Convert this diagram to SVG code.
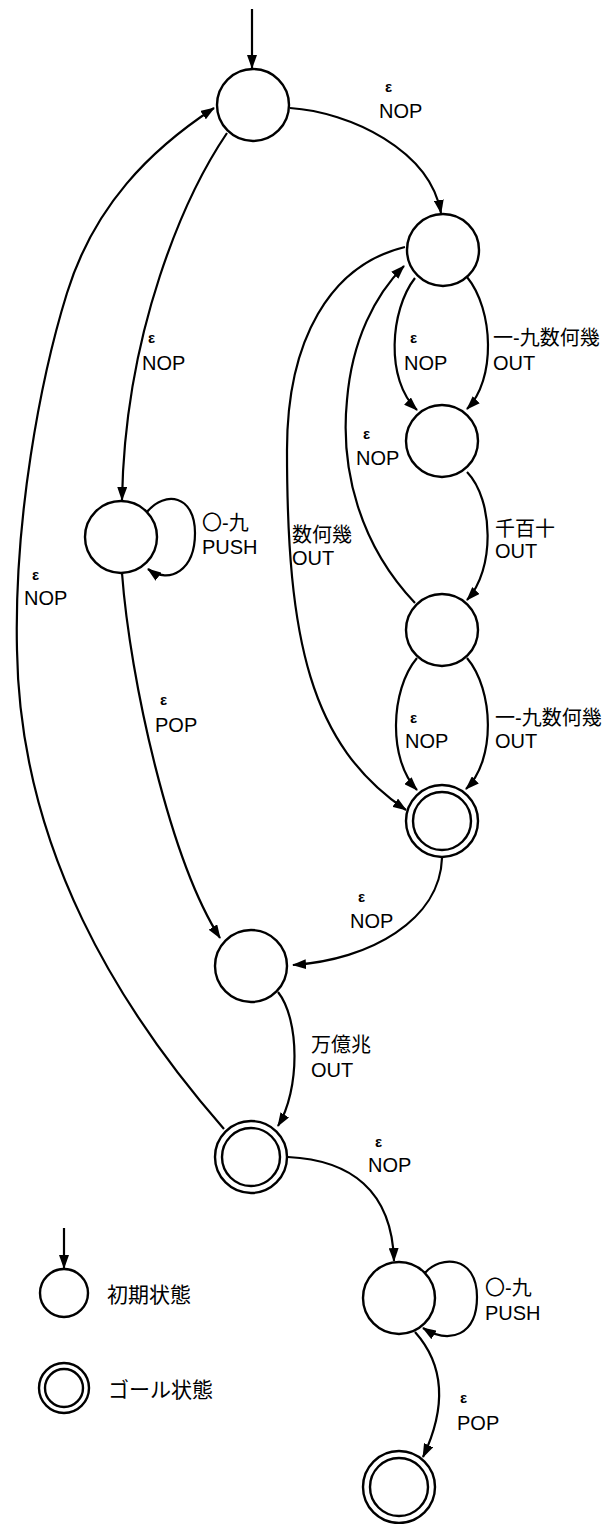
<svg xmlns="http://www.w3.org/2000/svg" width="613" height="1524" viewBox="0 0 613 1524">
<style>
.n{fill:#fff;stroke:#000;stroke-width:2.4}
.e{fill:none;stroke:#000;stroke-width:2.2}
.a{marker-end:url(#ah)}
text{font-family:"Liberation Sans","Noto Sans CJK JP",sans-serif;fill:#000}
.l{font-size:20px}
.g{font-size:15px;font-weight:bold}
.lg{font-size:21px}
</style>
<defs>
<marker id="ah" markerUnits="userSpaceOnUse" markerWidth="14" markerHeight="10" refX="13" refY="5" orient="auto">
<path d="M0,0 L14,5 L0,10 z" fill="#000"/>
</marker>
</defs>
<rect width="613" height="1524" fill="#fff"/>
<g id="connectors">
<path class="e a" d="M252,9 L252,68"/>
<path class="e a" d="M290,108 C350,112 430,150 441,213"/>
<path class="e a" d="M227,133 C185,195 125,330 122,500"/>
<path class="e a" d="M224,1129 C120,1010 20,850 17,650 C14,520 40,380 67,293 C94,206 150,150 214,108"/>
<path class="e a" d="M147,512 C165,490 195,495 195,533 C195,570 170,585 148,569"/>
<path class="e a" d="M122,573 C130,680 170,860 220,938"/>
<path class="e a" d="M415,278 C390,310 385,380 417,410"/>
<path class="e a" d="M467,277 C494,310 496,380 467,409"/>
<path class="e a" d="M405,247 C330,265 287,340 287,450 C287,640 310,745 406,810"/>
<path class="e a" d="M415,603 C360,545 340,470 347,400 C352,340 375,295 404,266"/>
<path class="e a" d="M467,472 C494,500 495,570 467,600"/>
<path class="e a" d="M417,658 C390,690 388,760 417,790"/>
<path class="e a" d="M467,658 C494,690 496,760 466,789"/>
<path class="e a" d="M442,858 C440,920 370,960 293,965"/>
<path class="e a" d="M278,992 C300,1020 300,1090 278,1126"/>
<path class="e a" d="M288,1157 C350,1160 392,1190 394,1261"/>
<path class="e a" d="M425,1273 C440,1255 477,1255 477,1297 C477,1335 450,1345 423,1328"/>
<path class="e a" d="M415,1332 C440,1360 450,1400 423,1457"/>
</g>
<g id="s0"><circle class="n" cx="253" cy="105" r="36"/></g>
<g id="s1"><circle class="n" cx="443" cy="250" r="36"/></g>
<g id="s2"><circle class="n" cx="442" cy="441" r="36"/></g>
<g id="s3"><circle class="n" cx="442" cy="630" r="36"/></g>
<g id="s4"><circle class="n" cx="442" cy="821" r="36"/><circle class="n" cx="442" cy="821" r="29"/></g>
<g id="s5"><circle class="n" cx="121" cy="537" r="36"/></g>
<g id="s6"><circle class="n" cx="251" cy="966" r="36"/></g>
<g id="s7"><circle class="n" cx="251" cy="1157" r="36"/><circle class="n" cx="251" cy="1157" r="29"/></g>
<g id="s8"><circle class="n" cx="399" cy="1298" r="36"/></g>
<g id="s9"><circle class="n" cx="399" cy="1487" r="36"/><circle class="n" cx="399" cy="1487" r="29"/></g>
<g id="labels">
<text class="g" x="385" y="92">ε</text><text class="l" x="379" y="118">NOP</text>
<text class="g" x="148" y="343">ε</text><text class="l" x="142" y="370">NOP</text>
<text class="g" x="32" y="580">ε</text><text class="l" x="24" y="605">NOP</text>
<text class="l" x="202" y="530">〇-九</text><text class="l" x="202" y="554">PUSH</text>
<text class="g" x="160" y="705">ε</text><text class="l" x="155" y="732">POP</text>
<text class="g" x="410" y="343">ε</text><text class="l" x="404" y="370">NOP</text>
<text class="l" x="493" y="345">一-九数何幾</text><text class="l" x="493" y="370">OUT</text>
<text class="g" x="363" y="439">ε</text><text class="l" x="356" y="465">NOP</text>
<text class="l" x="292" y="542">数何幾</text><text class="l" x="292" y="565">OUT</text>
<text class="l" x="495" y="536">千百十</text><text class="l" x="495" y="558">OUT</text>
<text class="g" x="410" y="723">ε</text><text class="l" x="405" y="748">NOP</text>
<text class="l" x="495" y="725">一-九数何幾</text><text class="l" x="495" y="748">OUT</text>
<text class="g" x="358" y="902">ε</text><text class="l" x="350" y="928">NOP</text>
<text class="l" x="311" y="1052">万億兆</text><text class="l" x="311" y="1077">OUT</text>
<text class="g" x="375" y="1147">ε</text><text class="l" x="368" y="1172">NOP</text>
<text class="l" x="485" y="1295">〇-九</text><text class="l" x="485" y="1320">PUSH</text>
<text class="g" x="460" y="1403">ε</text><text class="l" x="457" y="1430">POP</text>
</g>
<g id="legend">
<path class="e a" d="M64,1228 L64,1268"/>
<circle class="n" cx="64" cy="1293" r="24"/>
<circle class="n" cx="64" cy="1388" r="25"/><circle class="n" cx="64" cy="1388" r="19"/>
<text class="lg" x="107" y="1302">初期状態</text>
<text class="lg" x="108" y="1397">ゴール状態</text>
</g>
</svg>
